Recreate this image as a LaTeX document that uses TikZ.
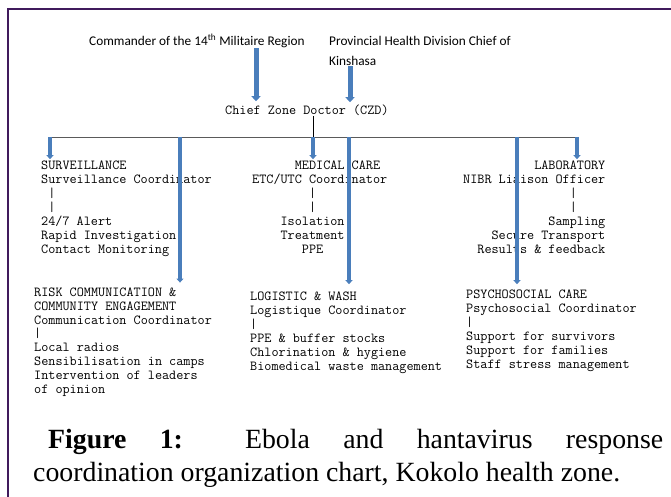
\documentclass[tikz,border=0pt]{standalone}
\usepackage{fontspec}
\setmainfont{Liberation Serif}
\newfontfamily\calibrifont{Carlito}
\usepackage{tikz}
\usetikzlibrary{arrows.meta, positioning, calc}
\definecolor{framepurple}{RGB}{64, 26, 92}
\definecolor{arrowblue}{RGB}{74, 126, 187}
\definecolor{busgray}{RGB}{90, 90, 90}
\newcommand{\ind}[1]{\hspace*{#1\fontcharwd\font`x}}

\begin{document}
\begin{tikzpicture}[x=1pt, y=-1pt,
    block/.style={anchor=base west, inner sep=0pt, align=left, font=\ttfamily\fontsize{13.8}{14}\selectfont},
    head/.style={anchor=base west, inner sep=0pt, align=left, font=\calibrifont\fontsize{13.3}{20}\selectfont},
    bigarrow/.style={-{Triangle[width=9pt, length=5pt]}, line width=5pt, arrowblue},
    bluearrow/.style={-{Triangle[width=7pt, length=4pt]}, line width=3.5pt, arrowblue},
    thinline/.style={line width=0.8pt}
]
\useasboundingbox (0,0) rectangle (671,497);
\draw [framepurple, line width=2.5pt] (8,497) -- (8,9) -- (671,9);

% multi-line nodes sit on the baseline of their last line
\node (CMD) [head] at (89,46) {Commander of the 14\textsuperscript{th} Militaire Region};
\node (PHD) [head] at (329,66) {Provincial Health Division Chief of\\Kinshasa};
\node (CZD) [block] at (225,115) {Chief Zone Doctor (CZD)};

\node (SURV) [block] at (41,253) {SURVEILLANCE\\Surveillance Coordinator\\\ind{1}|\\\ind{1}|\\24/7 Alert\\Rapid Investigation\\Contact Monitoring};
\node (MED)  [block] at (252,253) {\ind{6}MEDICAL CARE\\ETC/UTC Coordinator\\\ind{8}|\\\ind{8}|\\\ind{4}Isolation\\\ind{4}Treatment\\\ind{7}PPE};
\node (LAB)  [block] at (463,253) {\ind{10}LABORATORY\\NIBR Liaison Officer\\\ind{15}|\\\ind{15}|\\\ind{12}Sampling\\\ind{4}Secure Transport\\\ind{2}Results \& feedback};

\node (RISK) [block, font=\ttfamily\fontsize{13.8}{13.8}\selectfont] at (34,393) {RISK COMMUNICATION \&\\COMMUNITY ENGAGEMENT\\Communication Coordinator\\|\\Local radios\\Sensibilisation in camps\\Intervention of leaders\\of opinion};
\node (LOG)  [block] at (250,370) {LOGISTIC \& WASH\\Logistique Coordinator\\|\\PPE \& buffer stocks\\Chlorination \& hygiene\\Biomedical waste management};
\node (PSY)  [block] at (466,368) {PSYCHOSOCIAL CARE\\Psychosocial Coordinator\\|\\Support for survivors\\Support for families\\Staff stress management};

\node (CAP) [anchor=base west, inner sep=0pt, align=left, font=\fontsize{27.8}{33}\selectfont] at (33,481)
  {\hspace*{15pt}\makebox[615pt][s]{\textbf{Figure} \textbf{1:} Ebola and hantavirus response}\\coordination organization chart, Kokolo health zone.};

% bus under the chief zone doctor
\coordinate (BUS)  at (313,137);
\coordinate (BUSL) at (50,137);
\coordinate (BUSR) at (577,137);
\draw [thinline] (CZD.south -| BUS) -- (BUS);
\draw [busgray, thinline] (BUSL) -- (BUSR);

\draw [bigarrow] (CMD.south -| 256,0) -- ([yshift=4pt]CZD.north -| 256,0);
\draw [bigarrow] (PHD.south -| 350,0) -- ([yshift=3pt]CZD.north -| 350,0);

\draw [bluearrow] (BUSL) -- ([yshift=1pt]SURV.north -| BUSL);
\draw [bluearrow] (BUS) -- ([yshift=1pt]MED.north -| BUS);
\draw [bluearrow] (BUSR) -- ([yshift=1pt]LAB.north -| BUSR);

\draw [bluearrow] (180,137) -- ([yshift=5pt]RISK.north -| 180,0);
\draw [bluearrow] (349,137) -- ([yshift=7pt]LOG.north -| 349,0);
\draw [bluearrow] (517,137) -- ([yshift=5pt]PSY.north -| 517,0);

\end{tikzpicture}
\end{document}
